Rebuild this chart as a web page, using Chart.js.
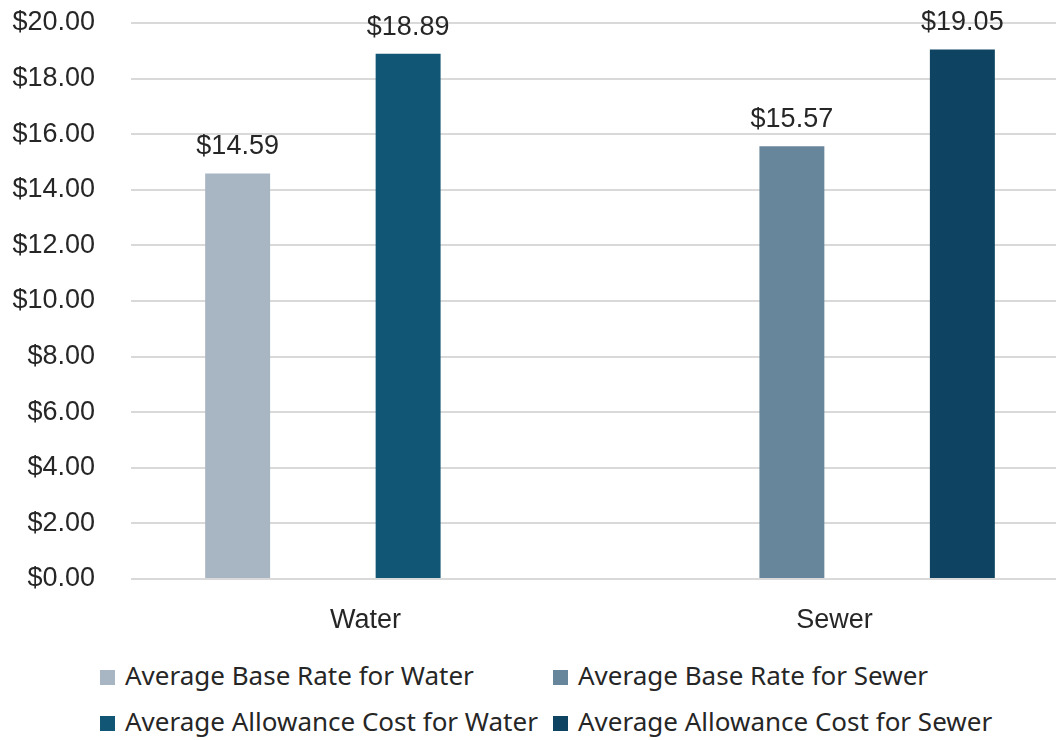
<!DOCTYPE html>
<html>
<head>
<meta charset="utf-8">
<script src="https://cdn.jsdelivr.net/npm/chart.js@4/dist/chart.umd.min.js"></script>
<style>
  html, body { margin: 0; padding: 0; background: #fff; overflow: hidden; }
  #wrap { position: relative; width: 1056px; height: 740px; overflow: hidden; }
  #chart { position: absolute; left: 0; top: 0; }
  .legend-item {
    position: absolute;
    font-family: "Noto Sans", sans-serif;
    font-size: 26px;
    color: #262626;
    white-space: nowrap;
    line-height: 30px;
  }
  .legend-color {
    display: inline-block;
    width: 15px;
    height: 15px;
    margin-right: 10px;
    vertical-align: 0px;
  }
</style>
</head>
<body>
<div id="wrap">
  <canvas id="chart" width="1070" height="640"></canvas>
  <div id="legend"></div>
</div>
<script>
  // Categories and series
  const categories = ['Water', 'Sewer'];
  const seriesNames = [
    'Average Base Rate for Water',
    'Average Base Rate for Sewer',
    'Average Allowance Cost for Water',
    'Average Allowance Cost for Sewer'
  ];
  const baseRateWater = [14.59, null];
  const baseRateSewer = [null, 15.57];
  const allowanceWater = [18.89, null];
  const allowanceSewer = [null, 19.05];
  const seriesColors = ['#a8b6c3', '#68869b', '#125675', '#0e4461'];

  const yTicks = [0, 2, 4, 6, 8, 10, 12, 14, 16, 18, 20];

  const money = v => '$' + Number(v).toFixed(2);
  const axisFont = { family: '"Liberation Sans", Arial, sans-serif', size: 27 };

  // Value labels above each bar
  const barValueLabels = {
    id: 'barValueLabels',
    afterDatasetsDraw(chart) {
      const ctx = chart.ctx;
      ctx.save();
      ctx.font = '27px "Liberation Sans", Arial, sans-serif';
      ctx.fillStyle = '#262626';
      ctx.textAlign = 'center';
      ctx.textBaseline = 'alphabetic';
      chart.data.datasets.forEach((ds, i) => {
        const meta = chart.getDatasetMeta(i);
        meta.data.forEach((bar, j) => {
          const v = ds.data[j];
          if (v === null || v === undefined) return;
          ctx.fillText(money(v), bar.x, bar.y - 19);
        });
      });
      ctx.restore();
    }
  };

  const allSeries = [baseRateWater, baseRateSewer, allowanceWater, allowanceSewer];

  const chart = new Chart(document.getElementById('chart').getContext('2d'), {
    type: 'bar',
    data: {
      labels: categories,
      datasets: allSeries.map((data, i) => ({
        label: seriesNames[i],
        data: data,
        backgroundColor: seriesColors[i],
        borderWidth: 0,
        categoryPercentage: 0.727,
        barPercentage: 0.762
      }))
    },
    options: {
      responsive: false,
      animation: false,
      devicePixelRatio: 1,
      layout: { padding: { top: 23, right: 1, left: 0, bottom: 0 } },
      plugins: {
        legend: { display: false },
        tooltip: { enabled: false }
      },
      scales: {
        x: {
          grid: { display: false, drawTicks: false },
          border: { display: false },
          ticks: { color: '#262626', font: axisFont, padding: 25 },
          afterFit(scale) { scale.height = 61; }
        },
        y: {
          min: 0,
          max: 20,
          afterBuildTicks(scale) { scale.ticks = yTicks.map(v => ({ value: v })); },
          grid: { color: '#d9d9d9', lineWidth: 2, drawTicks: false },
          border: { display: false },
          ticks: { color: '#262626', font: axisFont, padding: 36, callback: v => money(v) },
          afterFit(scale) {
            scale.width = 131;
            scale.paddingTop = 0;
            scale.paddingBottom = 0;
          }
        }
      }
    },
    plugins: [barValueLabels]
  });

  // Two-column legend under the chart
  const legendPos = [[100, 660], [553, 660], [100, 706], [553, 706]];
  const legendEl = document.getElementById('legend');
  seriesNames.forEach((name, i) => {
    const item = document.createElement('div');
    item.className = 'legend-item';
    item.style.left = legendPos[i][0] + 'px';
    item.style.top = legendPos[i][1] + 'px';
    item.innerHTML = '<span class="legend-color" style="background:' + seriesColors[i] + '"></span>' + name;
    legendEl.appendChild(item);
  });
</script>
</body>
</html>
